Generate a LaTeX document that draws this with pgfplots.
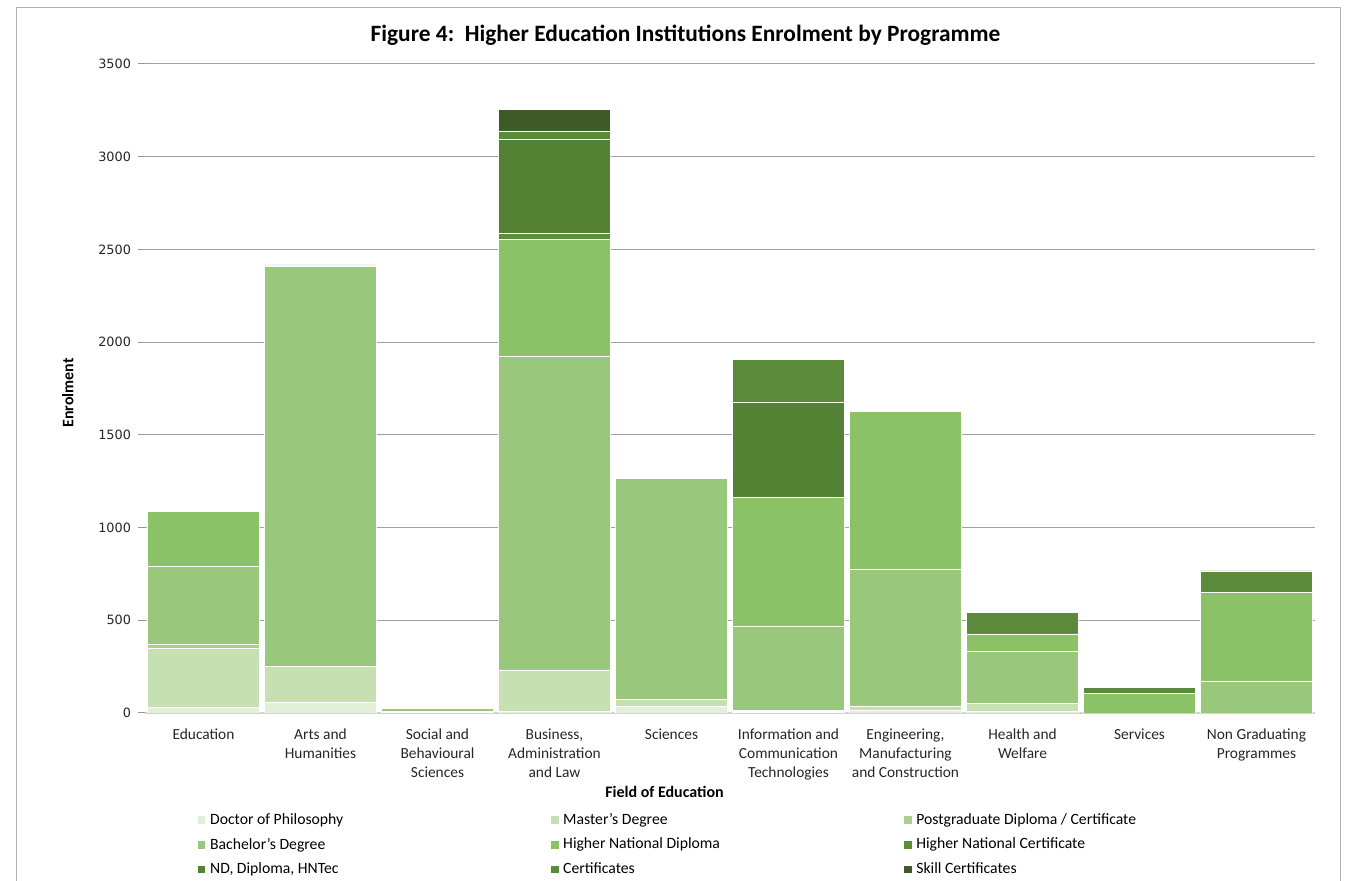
\documentclass[border=0pt]{standalone}
\usepackage{fontspec}
\setmainfont{Carlito}
\newfontfamily\dejavu{DejaVu Sans}
\usepackage{pgfplots}
\usepackage{pgfplotstable}
\pgfplotsset{compat=1.18}

\definecolor{cPhD}{HTML}{E2EFDA}
\definecolor{cMas}{HTML}{C6E0B4}
\definecolor{cPG}{HTML}{A9D08E}
\definecolor{cBach}{HTML}{99C77B}
\definecolor{cHND}{HTML}{8BC167}
\definecolor{cHNC}{HTML}{5B8D3A}
\definecolor{cND}{HTML}{548235}
\definecolor{cCert}{HTML}{5B8B3A}
\definecolor{cSkill}{HTML}{3D5A27}

% enrolment by field (x = category index)
\pgfplotstableread{
x  phd  mas  pg  bach  hnd  hnc  nd   cert  skill
0  32   318  22  421   296  0    0    0     0
1  59   194  0   2158  5    0    0    0     0
2  3    6    0   16    0    0    0    0     0
3  8    224  0   1690  634  31   507  45    118
4  34   41   0   1189  0    0    0    0     0
5  5    5    6   449   698  0    513  231   0
6  16   22   0   739   850  0    0    0     0
7  10   42   0   282   92   0    0    117   0
8  0    0    0   0     106  0    0    34    0
9  0    0    0   172   477  0    0    117   0
}\enrol

\newcommand{\lent}[1]{\makebox[168pt][l]{#1}}

\begin{document}
\begin{tikzpicture}
  \path[use as bounding box] (-72.5pt,-84pt) rectangle (606pt,356.5pt);
  \draw[gray!60, line width=0.5pt] (-64pt,-95pt) -- (-64pt,352.5pt) -- (597.5pt,352.5pt) -- (597.5pt,-95pt);
  \begin{axis}[
    scale only axis,
    width=585pt, height=324.5pt,
    ybar stacked,
    bar width=56pt,
    xmin=-0.5, xmax=9.5,
    ymin=0, ymax=3500,
    ytick={0,500,...,3500},
    xtick=data,
    xticklabels={Education, Arts and\\Humanities, Social and\\Behavioural\\Sciences,
      {Business,\\Administration\\and Law}, Sciences, Information and\\Communication\\Technologies,
      {Engineering,\\Manufacturing\\and Construction}, Health and\\Welfare, Services,
      Non Graduating\\Programmes},
    xticklabel style={font=\fontsize{7.7}{9.5}\selectfont, align=center, text=black!85, yshift=-1pt},
    yticklabel style={font=\dejavu\fontsize{6.4}{8}\selectfont, text=black!85},
    /pgf/number format/assume math mode=true,
    /pgf/number format/1000 sep={},
    axis x line*=bottom,
    axis y line*=left,
    x axis line style={draw=gray!35, line width=0.8pt},
    y axis line style={draw=none},
    xtick style={draw=none},
    ytick style={draw=gray!80, line width=0.5pt},
    tick align=outside,
    major tick length=3.5pt,
    ymajorgrids,
    grid style={gray!75, line width=0.5pt},
    title={\textbf{Figure 4:\ \ Higher Education Institutions Enrolment by Programme}},
    title style={at={(axis description cs:0.462,1.026)}, anchor=center, font=\fontsize{11.7}{14}\selectfont},
    ylabel={\textbf{Enrolment}},
    ylabel style={at={(axis description cs:-0.066,0.493)}, anchor=center, font=\fontsize{8}{10}\selectfont},
    xlabel={\textbf{Field of Education}},
    xlabel style={at={(axis description cs:0.444,-0.1217)}, anchor=center, font=\fontsize{8}{10}\selectfont},
    legend columns=3,
    legend style={at={(axis description cs:0.039,-0.1413)}, anchor=north west, draw=none,
      font=\fontsize{7.85}{9}\selectfont, row sep=1.4pt,
      /tikz/every odd column/.append style={column sep=0pt}},
    legend image code/.code={\fill[#1] (0pt,-2pt) rectangle (4.2pt,2.2pt);},
    every axis plot/.append style={draw=white, line width=0.35pt},
  ]
    \addplot[fill=cPhD]   table[x=x, y=phd]   {\enrol}; \addlegendentry{\lent{Doctor of Philosophy}}
    \addplot[fill=cMas]   table[x=x, y=mas]   {\enrol}; \addlegendentry{\lent{Master's Degree}}
    \addplot[fill=cPG]    table[x=x, y=pg]    {\enrol}; \addlegendentry{\lent{Postgraduate Diploma / Certificate}}
    \addplot[fill=cBach]  table[x=x, y=bach]  {\enrol}; \addlegendentry{\lent{Bachelor's Degree}}
    \addplot[fill=cHND]   table[x=x, y=hnd]   {\enrol}; \addlegendentry{\lent{Higher National Diploma}}
    \addplot[fill=cHNC]   table[x=x, y=hnc]   {\enrol}; \addlegendentry{\lent{Higher National Certificate}}
    \addplot[fill=cND]    table[x=x, y=nd]    {\enrol}; \addlegendentry{\lent{ND, Diploma, HNTec}}
    \addplot[fill=cCert]  table[x=x, y=cert]  {\enrol}; \addlegendentry{\lent{Certificates}}
    \addplot[fill=cSkill] table[x=x, y=skill] {\enrol}; \addlegendentry{\lent{Skill Certificates}}
  \end{axis}
\end{tikzpicture}
\end{document}
